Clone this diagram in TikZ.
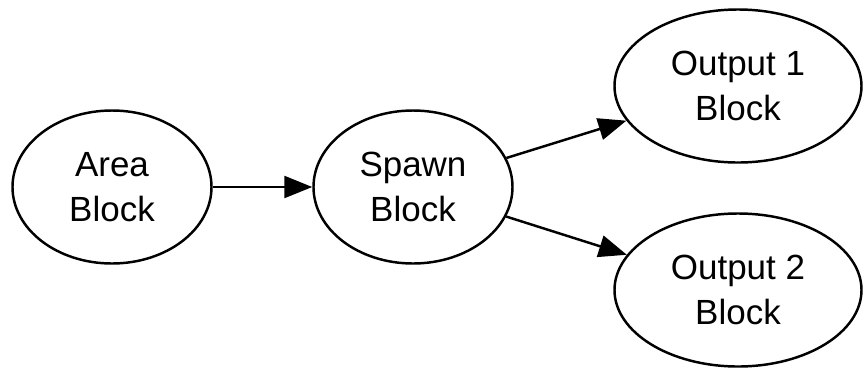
\documentclass[tikz,border=0pt]{standalone}
\usepackage{fontspec}
\setmainfont{Liberation Sans}
\usetikzlibrary{arrows.meta,shapes.geometric}

\begin{document}
\begin{tikzpicture}[font=\fontsize{19.9}{25.6}\selectfont,>={Triangle[length=0.56cm,width=0.44cm]},line width=1.4pt,
  blk/.style={draw,ellipse,align=center,inner sep=0pt,minimum width=3.98cm,minimum height=3.06cm}]
\useasboundingbox (0,0) rectangle (17.28,-7.38);
\node[blk] (area) at (2.24,-3.74) {Area\\Block};
\node[blk] (spawn) at (8.26,-3.74) {Spawn\\Block};
\node[blk,minimum width=4.94cm] (out1) at (14.76,-1.72) {Output 1\\Block};
\node[blk,minimum width=4.94cm] (out2) at (14.76,-5.8) {Output 2\\Block};
\draw[->] (area) -- (spawn);
\draw[->] (spawn) -- (out1);
\draw[->] (spawn) -- (out2);
\end{tikzpicture}
\end{document}
